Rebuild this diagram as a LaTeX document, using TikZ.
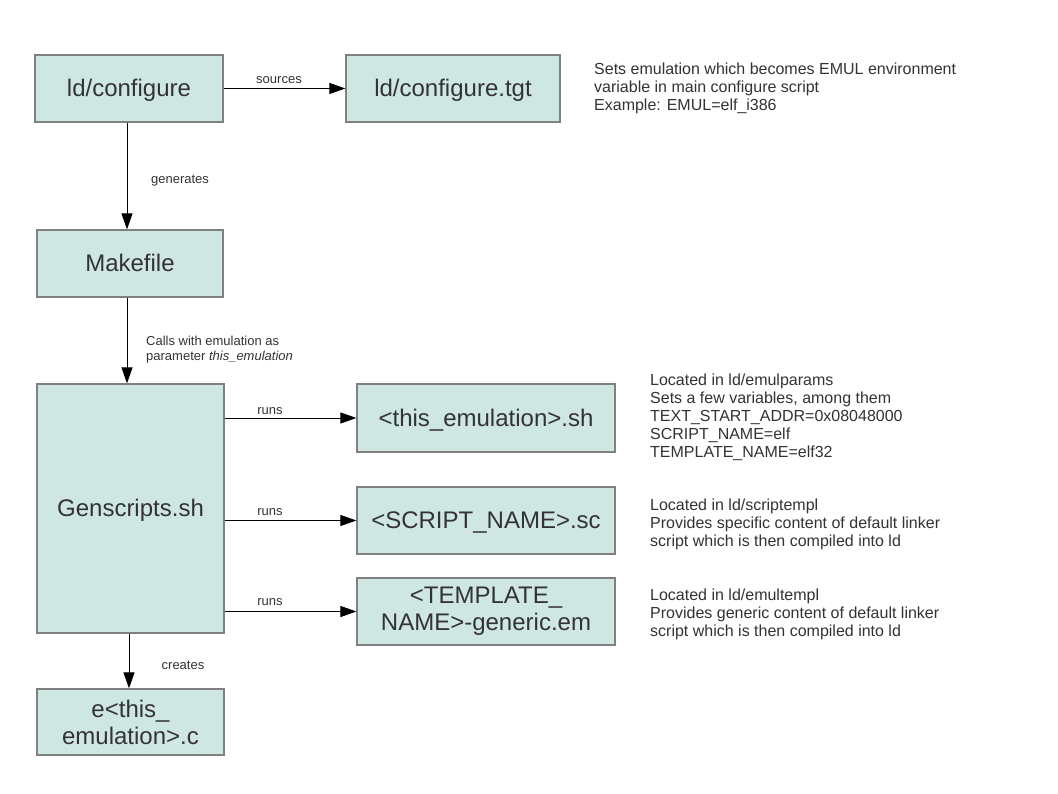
\documentclass[tikz,border=0pt]{standalone}
\usepackage{fontspec}
\setmainfont{Liberation Sans}
\usetikzlibrary{arrows.meta}
\definecolor{boxfill}{RGB}{207,231,227}
\definecolor{boxline}{RGB}{128,128,128}
\definecolor{txt}{RGB}{51,51,51}
\begin{document}
\begin{tikzpicture}[x=1pt,y=-1pt,
  box/.style={draw=boxline,fill=boxfill,line width=1.2pt,inner sep=2pt,
    text=txt,font=\fontsize{24}{27}\selectfont,align=center},
  oneline/.style={text height=21.7pt,text depth=5pt},
  conn/.style={draw=black,line width=1pt,-{Triangle[length=16pt,width=11pt]}},
  lbl/.style={text=txt,font=\fontsize{13}{15}\selectfont,inner sep=0pt},
  note/.style={text=txt,font=\fontsize{16}{18}\selectfont,align=left,anchor=north west,inner sep=0pt}]
\useasboundingbox (0,0) rectangle (1058,794);
\fill[white] (0,0) rectangle (1058,794);

\node[box,oneline,minimum width=188pt,minimum height=67pt] (cfg) at (129,88.5) {ld/configure};
\node[box,oneline,minimum width=214pt,minimum height=67pt] (tgt) at (453,88.5) {ld/configure.tgt};
\node[box,oneline,minimum width=186pt,minimum height=67pt] (make) at (130,263.5) {Makefile};
\node[box,oneline,minimum width=187pt,minimum height=249pt] (gen) at (130.5,508.5) {Genscripts.sh};
\node[box,oneline,minimum width=258pt,minimum height=68pt] (sh) at (486,418) {<this\_emulation>.sh};
\node[box,oneline,minimum width=258pt,minimum height=67pt] (sc) at (486,520.5) {<SCRIPT\_NAME>.sc};
\node[box,minimum width=258pt,minimum height=67pt] (em) at (486,611.5) {<TEMPLATE\_\\NAME>-generic.em};
\node[box,minimum width=187pt,minimum height=66pt] (ec) at (130.5,722) {e<this\_\\emulation>.c};

\draw[conn] (cfg.east) -- (tgt.west);
\draw[conn] ([xshift=-2pt]cfg.south) -- ([xshift=-2pt]cfg.south |- make.north);
\draw[conn] ([xshift=-3pt]make.south) -- ([xshift=-3pt]make.south |- gen.north);
\draw[conn] (gen.east |- sh.west) -- (sh.west);
\draw[conn] (gen.east |- sc.west) -- (sc.west);
\draw[conn] (gen.east |- em.west) -- (em.west);
\draw[conn] ([xshift=-1.5pt]gen.south) -- ([xshift=-1.5pt]gen.south |- ec.north);

\node[lbl] (lsrc) at (279,80) {sources};
\node[lbl] (lgen) at (180,180.5) {generates};
\node[lbl,align=left,anchor=north west] (lcall) at (146,335.5) {Calls with emulation as\\parameter \textit{this\_emulation}};
\node[lbl] (lr1) at (270,411.5) {runs};
\node[lbl] (lr2) at (270,512.5) {runs};
\node[lbl] (lr3) at (270,602.5) {runs};
\node[lbl] (lcr) at (183,665.5) {creates};

\node[note] (n1) at (594,63) {Sets emulation which becomes EMUL environment\\variable in main configure script\\Example: EMUL=elf\_i386};
\node[note] (n2) at (650,374) {Located in ld/emulparams\\Sets a few variables, among them\\TEXT\_START\_ADDR=0x08048000\\SCRIPT\_NAME=elf\\TEMPLATE\_NAME=elf32};
\node[note] (n3) at (650,499) {Located in ld/scriptempl\\Provides specific content of default linker\\script which is then compiled into ld};
\node[note] (n4) at (650,589) {Located in ld/emultempl\\Provides generic content of default linker\\script which is then compiled into ld};
\end{tikzpicture}
\end{document}
